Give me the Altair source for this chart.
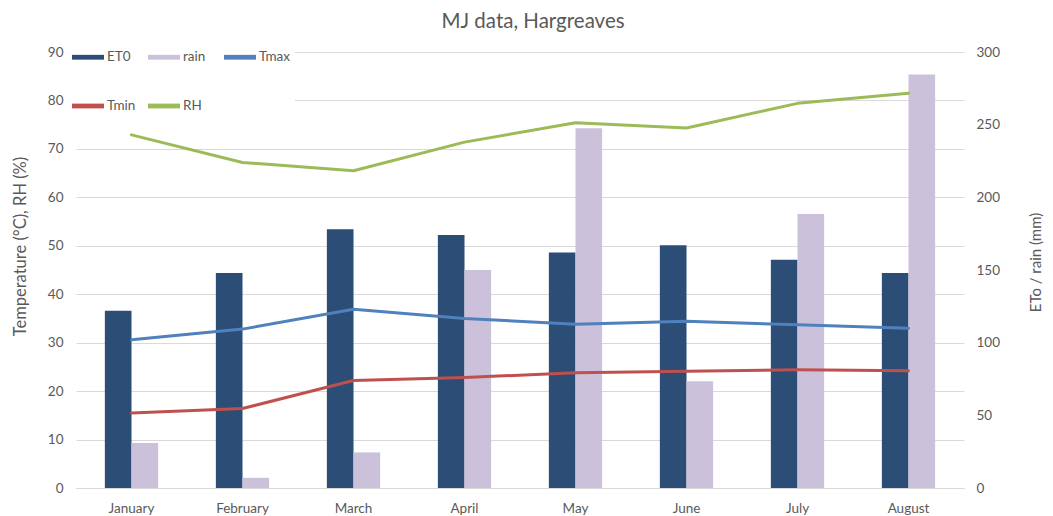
import altair as alt
import pandas as pd

FONT = "Lato"
TXT = "#595959"
GRID = "#D9D9D9"

months = ["January", "February", "March", "April", "May", "June", "July", "August"]
et0 = [122, 148, 178, 174, 162, 167, 157, 148]
rain = [31, 7, 24.5, 150, 247.5, 73.5, 188.5, 284.5]
tmax = [30.6, 32.8, 36.9, 35.0, 33.8, 34.4, 33.7, 33.0]
tmin = [15.5, 16.4, 22.2, 22.8, 23.8, 24.1, 24.4, 24.2]
rh = [72.9, 67.2, 65.5, 71.4, 75.4, 74.3, 79.4, 81.5]

series_order = ["ET0", "rain", "Tmax", "Tmin", "RH"]
series_colors = ["#2C4D75", "#CCC1DA", "#4F81BD", "#C0504D", "#9BBB59"]
left_ticks = [0, 10, 20, 30, 40, 50, 60, 70, 80, 90]
right_ticks = [0, 50, 100, 150, 200, 250, 300]

bars_df = pd.DataFrame({
    "month": months * 2,
    "series": ["ET0"] * len(months) + ["rain"] * len(months),
    "value": et0 + rain,
})
lines_df = pd.DataFrame({
    "month": months * 3,
    "series": ["Tmax"] * len(months) + ["Tmin"] * len(months) + ["RH"] * len(months),
    "value": tmax + tmin + rh,
})

color_scale = alt.Scale(domain=series_order, range=series_colors)

legend = alt.Legend(
    title=None, orient="none", legendX=-8, legendY=-15, direction="horizontal",
    columns=3, gridAlign="all", symbolSize=1024, columnPadding=9, rowPadding=26,
    symbolType="M-1,-0.15L1,-0.15L1,0.15L-1,0.15Z", symbolStrokeWidth=0,
    labelOffset=3, fillColor="white", padding=4,
    labelFont=FONT, labelFontSize=13.5, labelColor=TXT,
)

x_enc = alt.X(
    "month:N", sort=months,
    scale=alt.Scale(paddingInner=0.52, paddingOuter=0.26),
    axis=alt.Axis(title=None, labelAngle=0, ticks=False, domainColor=GRID, domainWidth=1,
                  labelPadding=13, grid=False),
)

bars = alt.Chart(bars_df).mark_bar().encode(
    x=x_enc,
    xOffset=alt.XOffset("series:N", sort=["ET0", "rain"],
                        scale=alt.Scale(paddingInner=0, paddingOuter=0)),
    y=alt.Y("value:Q", scale=alt.Scale(domain=[0, 300], nice=False),
            axis=alt.Axis(orient="right", values=right_ticks, grid=False, domain=False, ticks=False,
                          labelPadding=12, title="ETo / rain (mm)", titleAngle=270,
                          titleX=71, titleY=210, titleAlign="center", titleBaseline="middle",
                          titleFontSize=15)),
    color=alt.Color("series:N", scale=color_scale, legend=legend),
)

lines = alt.Chart(lines_df).mark_line(strokeWidth=3, strokeCap="round", strokeJoin="round").encode(
    x=x_enc,
    y=alt.Y("value:Q", scale=alt.Scale(domain=[0, 90], nice=False),
            axis=alt.Axis(orient="left", values=left_ticks, grid=True, gridColor=GRID, gridWidth=1,
                          domain=False, ticks=False, labelPadding=13,
                          title="Temperature (°C), RH (%)", titleAngle=270,
                          titleX=-56, titleY=194, titleAlign="center", titleBaseline="middle",
                          titleFontSize=16.5)),
    color=alt.Color("series:N", scale=color_scale, legend=None),
)

chart = alt.layer(bars, lines).resolve_scale(y="independent").properties(
    width=888, height=436,
    title=alt.TitleParams("MJ data, Hargreaves", font=FONT, fontSize=20.5, color=TXT,
                          fontWeight="normal", anchor="middle", dx=13, offset=0, dy=11,
                          baseline="alphabetic"),
    autosize=alt.AutoSizeParams(type="none"),
    padding={"left": 68, "top": 44, "right": 81, "bottom": 28},
).configure_view(stroke=None).configure_axis(
    labelFont=FONT, labelFontSize=13.5, labelColor=TXT,
    titleFont=FONT, titleColor=TXT, titleFontWeight="normal",
)

chart.save("out.html", embed_options={"renderer": "svg", "actions": False})
